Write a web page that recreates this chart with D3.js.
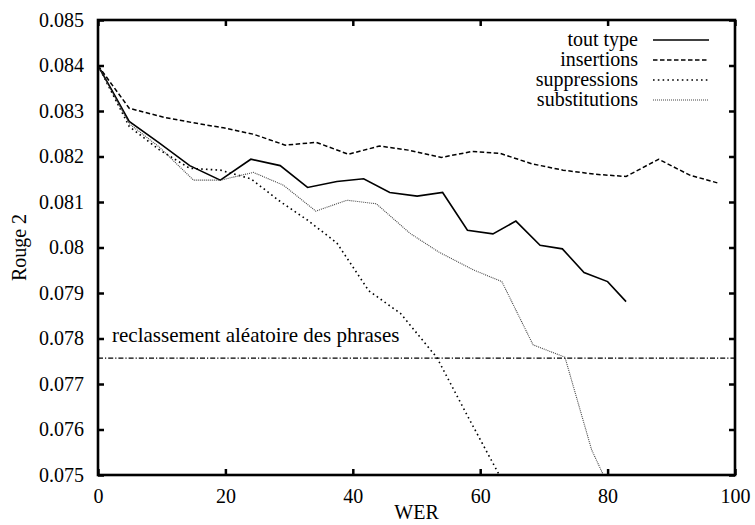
<!DOCTYPE html>
<html><head><meta charset="utf-8">
<script src="https://cdn.jsdelivr.net/npm/d3@7"></script>
<style>body{margin:0;background:#fff}svg{display:block}text{font-family:"Liberation Serif","Times New Roman",serif;fill:#000}</style>
</head><body><svg id="c" width="755" height="525"></svg>
<script>
const xTicks = [0, 20, 40, 60, 80, 100];
const yTicks = [0.075, 0.076, 0.077, 0.078, 0.079, 0.08, 0.081, 0.082, 0.083, 0.084, 0.085];
const yTickLabels = ["0.075","0.076","0.077","0.078","0.079","0.08","0.081","0.082","0.083","0.084","0.085"];

const toutX = [0, 4.9, 9.6, 14.4, 19.2, 24.0, 28.6, 32.9, 37.5, 41.7, 45.8, 50.1, 54.1, 58.0, 62.0, 65.6, 69.4, 72.9, 76.3, 80.0, 82.9];
const toutY = [0.0840, 0.08277, 0.08230, 0.08180, 0.08148, 0.08194, 0.08180, 0.08132, 0.08145, 0.08151, 0.08121, 0.08113, 0.08121, 0.08038, 0.08030, 0.08058, 0.08005, 0.07997, 0.07945, 0.07925, 0.07881];

const insX = [0, 4.9, 10.4, 15.0, 19.7, 24.4, 29.4, 34.3, 39.3, 44.2, 48.7, 53.9, 58.7, 63.1, 68.1, 73.0, 78.0, 82.9, 88.0, 92.9, 97.5];
const insY = [0.0840, 0.08306, 0.08286, 0.08274, 0.08263, 0.08249, 0.08225, 0.08231, 0.08205, 0.08223, 0.08214, 0.08198, 0.08211, 0.08207, 0.08184, 0.08170, 0.08161, 0.08156, 0.08194, 0.08159, 0.08141];

const supX = [0, 4.9, 9.6, 14.4, 19.2, 24.0, 28.6, 32.9, 37.5, 42.5, 47.5, 53.2, 58.0, 63.0, 68.0];
const supY = [0.0840, 0.08266, 0.08215, 0.08174, 0.08170, 0.08151, 0.08101, 0.08060, 0.08010, 0.07905, 0.07855, 0.07758, 0.07630, 0.07500, 0.07370];

const subX = [0, 4.9, 9.6, 15.0, 19.2, 24.4, 29.1, 34.2, 39.1, 43.7, 49.0, 53.5, 58.9, 63.4, 68.3, 73.3, 77.5, 82.0];
const subY = [0.0840, 0.08272, 0.08221, 0.08148, 0.08148, 0.08165, 0.08137, 0.08080, 0.08104, 0.08096, 0.08031, 0.07990, 0.07951, 0.07925, 0.07786, 0.07759, 0.07555, 0.07420];

const seriesNames = ["tout type", "insertions", "suppressions", "substitutions"];
const baseline = 0.07757;
const baselineLabel = "reclassement aléatoire des phrases";

const L = 98, R = 735, T = 20, B = 475;
const svg = d3.select("#c");
const x = d3.scaleLinear().domain([0, 100]).range([L, R]);
const y = d3.scaleLinear().domain([0.075, 0.085]).range([B, T]);

svg.append("defs").append("clipPath").attr("id", "clip")
  .append("rect").attr("x", L).attr("y", T).attr("width", R - L).attr("height", B - T);

const styles = [
  {dash: null, w: 1.6, c: "#000"},
  {dash: "4.5,2.5", w: 1.5, c: "#000"},
  {dash: "1.6,3.2", w: 1.6, c: "#000"},
  {dash: "1,1", w: 1.1, c: "#444"}
];
const data = [
  d3.zip(toutX, toutY), d3.zip(insX, insY), d3.zip(supX, supY), d3.zip(subX, subY)
];
const line = d3.line().x(d => x(d[0])).y(d => y(d[1]));
const g = svg.append("g").attr("clip-path", "url(#clip)");
data.forEach((d, i) => {
  g.append("path").attr("d", line(d)).attr("fill", "none")
    .attr("stroke", styles[i].c).attr("stroke-width", styles[i].w)
    .attr("stroke-dasharray", styles[i].dash);
});
// baseline
g.append("line").attr("x1", L).attr("x2", R).attr("y1", y(baseline)).attr("y2", y(baseline))
  .attr("stroke", "#000").attr("stroke-width", 1.2).attr("stroke-dasharray", "5,2,1.2,2");
svg.append("text").attr("x", x(2.2)).attr("y", y(baseline) - 16).attr("font-size", 21).text(baselineLabel);

// axes (ticks inward, mirrored)
const ax = svg.append("g");
const xb = d3.axisBottom(x).tickValues(xTicks).tickSize(-6).tickPadding(14).tickFormat(d3.format("d"));
const xt = d3.axisTop(x).tickValues(xTicks).tickSize(-6).tickFormat("");
const yl = d3.axisLeft(y).tickValues(yTicks).tickSize(-6).tickPadding(14).tickFormat((d, i) => yTickLabels[i]);
const yr = d3.axisRight(y).tickValues(yTicks).tickSize(-6).tickFormat("");
[[xb, `translate(0,${B})`], [xt, `translate(0,${T})`], [yl, `translate(${L},0)`], [yr, `translate(${R},0)`]].forEach(([a, t]) => {
  const gg = ax.append("g").attr("transform", t).call(a);
  gg.select(".domain").remove();
  gg.selectAll(".tick line").attr("stroke", "#000").attr("stroke-width", 2.5);
  gg.selectAll("text").attr("font-size", 20).attr("font-family", "Liberation Serif").attr("fill", "#000");
});
svg.append("rect").attr("x", L).attr("y", T).attr("width", R - L).attr("height", B - T)
  .attr("fill", "none").attr("stroke", "#000").attr("stroke-width", 2.6);

svg.append("text").attr("x", (L + R) / 2).attr("y", 519).attr("text-anchor", "middle").attr("font-size", 20).text("WER");
svg.append("text").attr("transform", `translate(26,${(T + B) / 2}) rotate(-90)`).attr("text-anchor", "middle").attr("font-size", 20).text("Rouge 2");

// legend
const lg = svg.append("g");
seriesNames.forEach((n, i) => {
  const yy = 40 + i * 20;
  lg.append("text").attr("x", 638).attr("y", yy + 6).attr("text-anchor", "end").attr("font-size", 20).text(n);
  lg.append("line").attr("x1", 653).attr("x2", 709).attr("y1", yy).attr("y2", yy)
    .attr("stroke", styles[i].c).attr("stroke-width", styles[i].w).attr("stroke-dasharray", styles[i].dash);
});
</script></body></html>
